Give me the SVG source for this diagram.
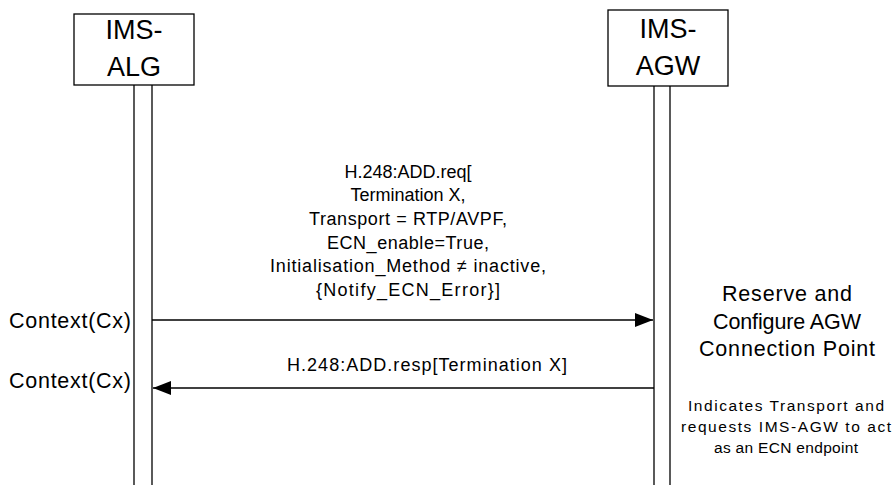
<svg xmlns="http://www.w3.org/2000/svg" width="896" height="485" viewBox="0 0 896 485">
<style>
text{font-family:"Liberation Sans",Arial,sans-serif;fill:#000}
.box{fill:#fff;stroke:#000;stroke-width:1.3}
.life{stroke:#000;stroke-width:1.3}
.msg{stroke:#000;stroke-width:1.3;fill:none}
.big{font-size:27px;text-anchor:middle}
.lbl{font-size:18px;text-anchor:middle}
.ctx{font-size:21.5px;text-anchor:end}
.act{font-size:21.5px;text-anchor:middle}
.note{font-size:15.5px;text-anchor:middle}
</style>
<defs>
<marker id="ah" markerWidth="18" markerHeight="14" refX="18" refY="7" orient="auto" markerUnits="userSpaceOnUse">
<path d="M0,0 L18,7 L0,14 Z" fill="#000"/>
</marker>
</defs>
<rect width="896" height="485" fill="#fff"/>
<g id="ims-alg">
<line class="life" x1="134" y1="85" x2="134" y2="485"/>
<line class="life" x1="152" y1="85" x2="152" y2="485"/>
<rect class="box" x="74" y="14" width="120" height="71"/>
<text class="big" x="134" y="39">IMS-</text>
<text class="big" x="134" y="76">ALG</text>
</g>
<g id="ims-agw">
<line class="life" x1="654" y1="86" x2="654" y2="485"/>
<line class="life" x1="670" y1="86" x2="670" y2="485"/>
<rect class="box" x="608" y="10" width="120" height="76"/>
<text class="big" x="668" y="38">IMS-</text>
<text class="big" x="668" y="75">AGW</text>
</g>
<g id="connectors">
<line class="msg" x1="152" y1="320" x2="653" y2="320" marker-end="url(#ah)"/>
<line class="msg" x1="654" y1="388" x2="153" y2="388" marker-end="url(#ah)"/>
</g>
<g id="labels">
<text class="lbl" x="408" y="178">H.248:ADD.req[</text>
<text class="lbl" x="408" y="201">Termination X,</text>
<text class="lbl" x="408" y="225" textLength="198" lengthAdjust="spacing">Transport = RTP/AVPF,</text>
<text class="lbl" x="408" y="249" textLength="162" lengthAdjust="spacing">ECN_enable=True,</text>
<text class="lbl" x="408" y="272" textLength="276" lengthAdjust="spacing">Initialisation_Method ≠ inactive,</text>
<text class="lbl" x="408" y="296" textLength="184" lengthAdjust="spacing">{Notify_ECN_Error}]</text>
<text class="lbl" x="427" y="371" textLength="280" lengthAdjust="spacing">H.248:ADD.resp[Termination X]</text>
<text class="ctx" x="131" y="328" textLength="122" lengthAdjust="spacing">Context(Cx)</text>
<text class="ctx" x="131" y="388" textLength="122" lengthAdjust="spacing">Context(Cx)</text>
<text class="act" x="787" y="301" textLength="130" lengthAdjust="spacing">Reserve and</text>
<text class="act" x="787" y="329" textLength="148" lengthAdjust="spacing">Configure AGW</text>
<text class="act" x="787" y="356" textLength="176" lengthAdjust="spacing">Connection Point</text>
<text class="note" x="786" y="411" textLength="196" lengthAdjust="spacing">Indicates Transport and</text>
<text class="note" x="786" y="432" textLength="210" lengthAdjust="spacing">requests IMS-AGW to act</text>
<text class="note" x="786" y="453" textLength="144" lengthAdjust="spacing">as an ECN endpoint</text>
</g>
</svg>
